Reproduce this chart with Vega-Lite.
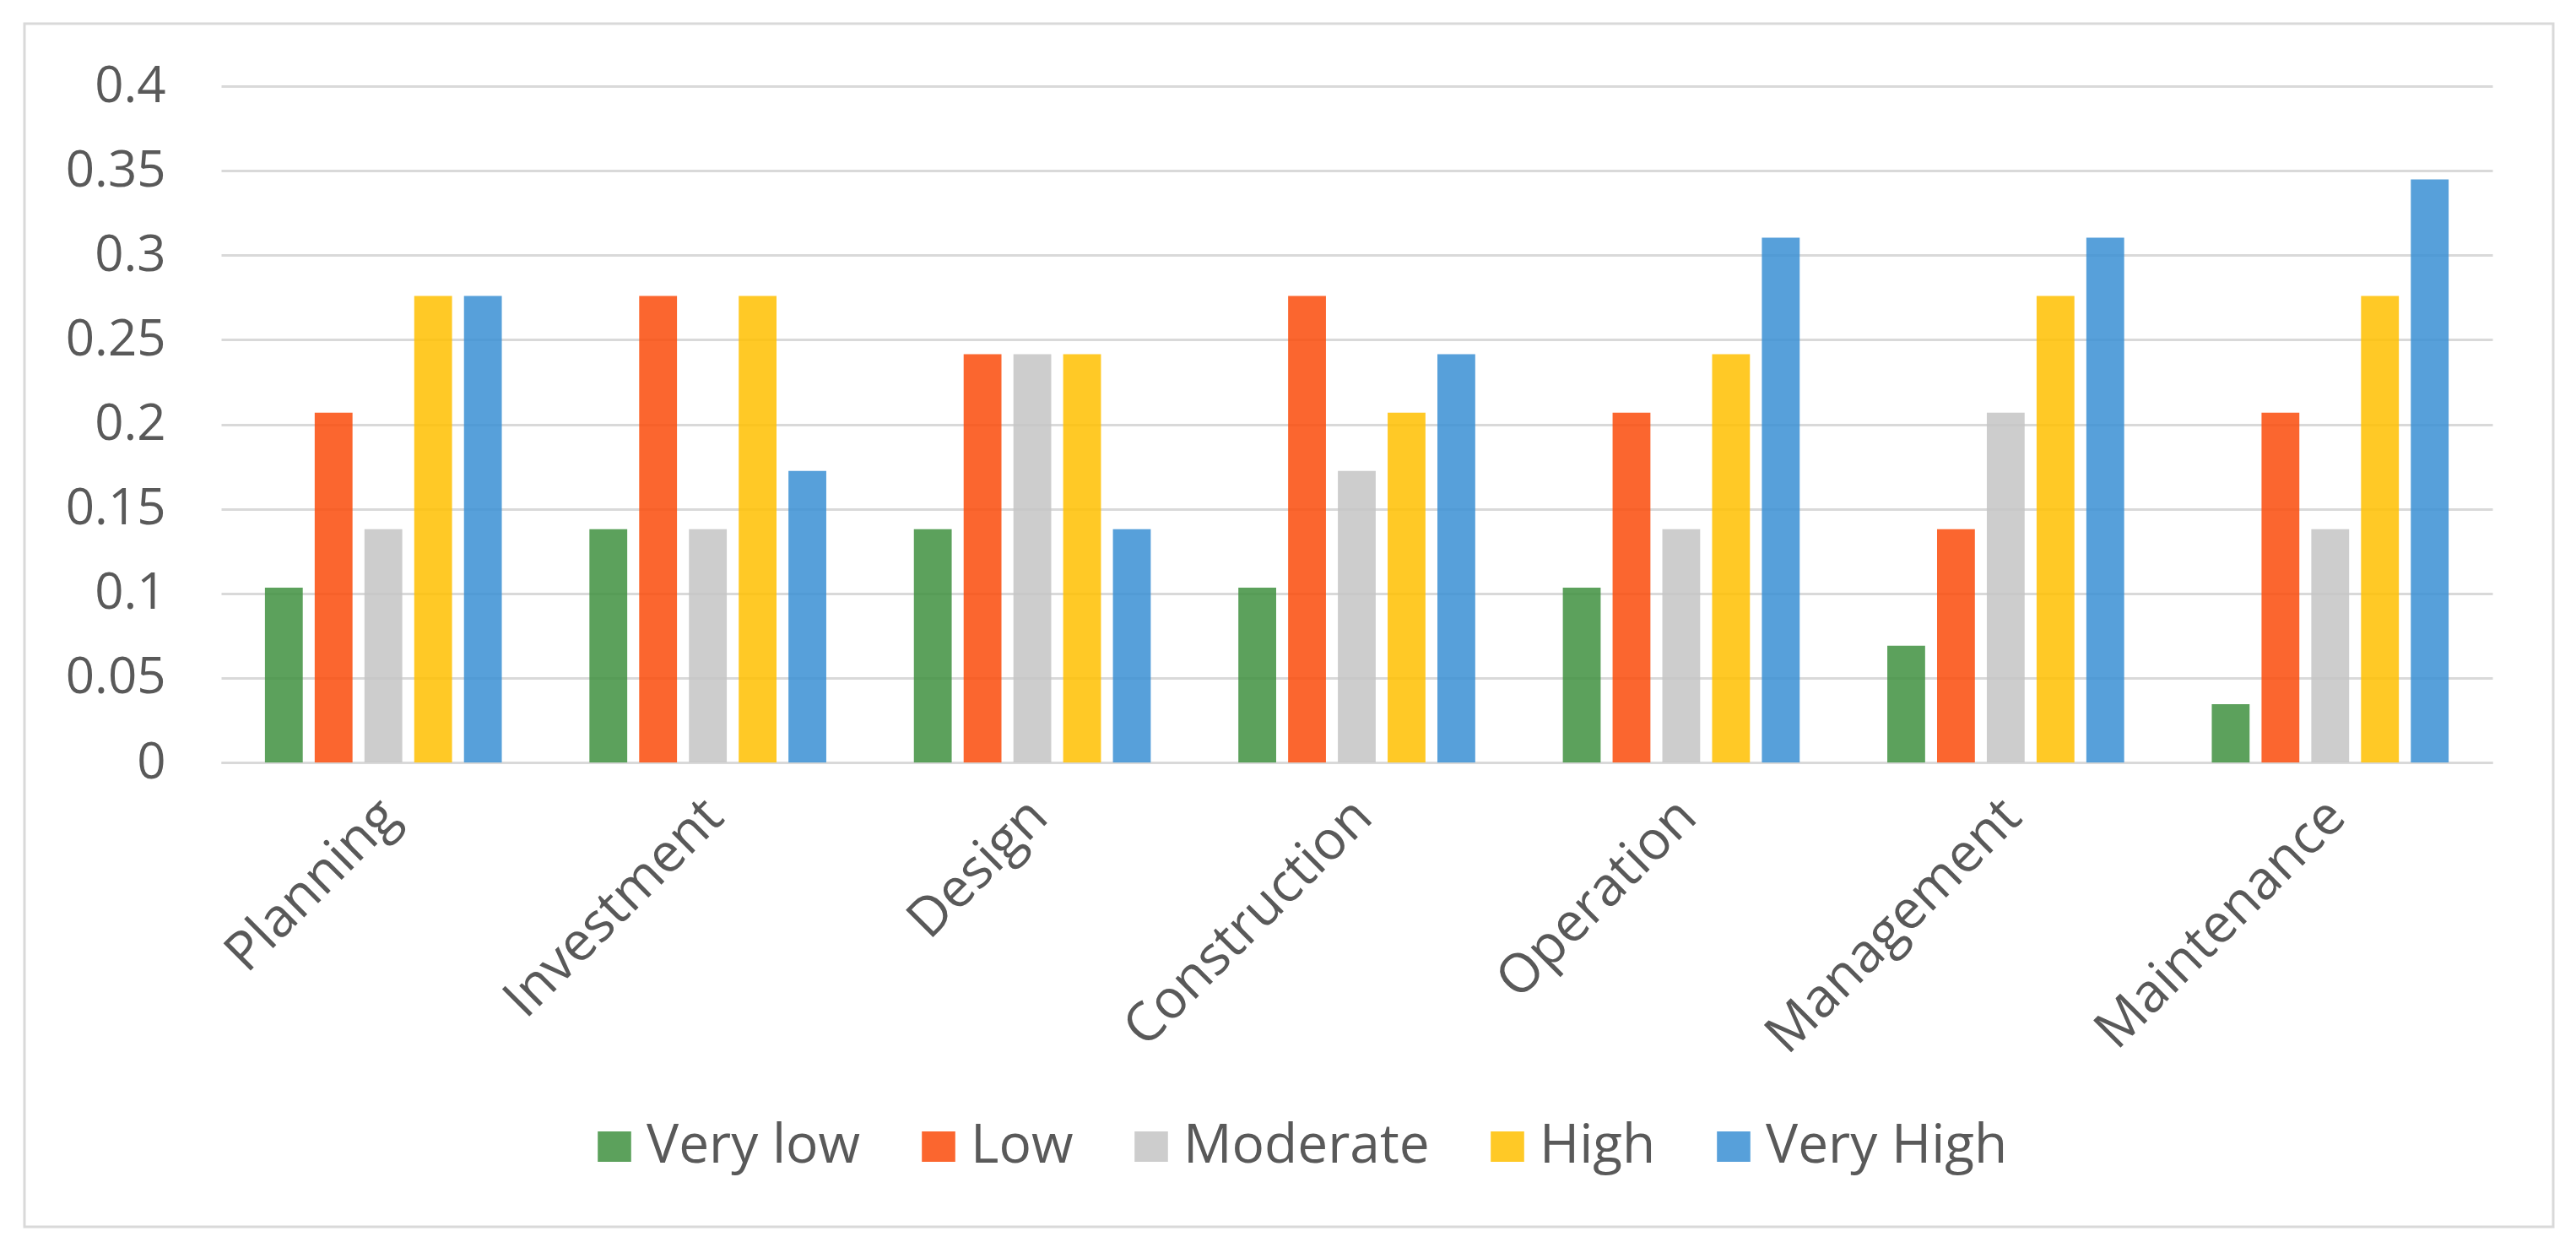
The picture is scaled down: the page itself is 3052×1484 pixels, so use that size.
{
  "$schema": "https://vega.github.io/schema/vega-lite/v6.json",
  "autosize": {"type": "none"},
  "padding": {"left": 29, "top": 28, "right": 27, "bottom": 31},
  "width": 2996,
  "height": 1425,
  "background": "white",
  "config": {
    "font": "Open Sans",
    "view": {"stroke": "#d9d9d9", "strokeWidth": 3}
  },
  "data": {
    "values": [
      {"stage": "Planning", "level": "Very low", "value": 0.1034},
      {"stage": "Planning", "level": "Low", "value": 0.2069},
      {"stage": "Planning", "level": "Moderate", "value": 0.1379},
      {"stage": "Planning", "level": "High", "value": 0.2759},
      {"stage": "Planning", "level": "Very High", "value": 0.2759},
      {"stage": "Investment", "level": "Very low", "value": 0.1379},
      {"stage": "Investment", "level": "Low", "value": 0.2759},
      {"stage": "Investment", "level": "Moderate", "value": 0.1379},
      {"stage": "Investment", "level": "High", "value": 0.2759},
      {"stage": "Investment", "level": "Very High", "value": 0.1724},
      {"stage": "Design", "level": "Very low", "value": 0.1379},
      {"stage": "Design", "level": "Low", "value": 0.2414},
      {"stage": "Design", "level": "Moderate", "value": 0.2414},
      {"stage": "Design", "level": "High", "value": 0.2414},
      {"stage": "Design", "level": "Very High", "value": 0.1379},
      {"stage": "Construction", "level": "Very low", "value": 0.1034},
      {"stage": "Construction", "level": "Low", "value": 0.2759},
      {"stage": "Construction", "level": "Moderate", "value": 0.1724},
      {"stage": "Construction", "level": "High", "value": 0.2069},
      {"stage": "Construction", "level": "Very High", "value": 0.2414},
      {"stage": "Operation", "level": "Very low", "value": 0.1034},
      {"stage": "Operation", "level": "Low", "value": 0.2069},
      {"stage": "Operation", "level": "Moderate", "value": 0.1379},
      {"stage": "Operation", "level": "High", "value": 0.2414},
      {"stage": "Operation", "level": "Very High", "value": 0.3103},
      {"stage": "Management", "level": "Very low", "value": 0.069},
      {"stage": "Management", "level": "Low", "value": 0.1379},
      {"stage": "Management", "level": "Moderate", "value": 0.2069},
      {"stage": "Management", "level": "High", "value": 0.2759},
      {"stage": "Management", "level": "Very High", "value": 0.3103},
      {"stage": "Maintenance", "level": "Very low", "value": 0.0345},
      {"stage": "Maintenance", "level": "Low", "value": 0.2069},
      {"stage": "Maintenance", "level": "Moderate", "value": 0.1379},
      {"stage": "Maintenance", "level": "High", "value": 0.2759},
      {"stage": "Maintenance", "level": "Very High", "value": 0.3448}
    ]
  },
  "mark": {"type": "bar", "fillOpacity": 0.85},
  "encoding": {
    "x": {
      "field": "stage",
      "type": "nominal",
      "sort": ["Planning", "Investment", "Design", "Construction", "Operation", "Management", "Maintenance"],
      "scale": {"range": [233, 2924], "paddingInner": 0.27, "paddingOuter": 0.135},
      "axis": {
        "title": null,
        "offset": -550,
        "domainColor": "#d9d9d9",
        "domainWidth": 3,
        "ticks": false,
        "tickSize": 0,
        "grid": false,
        "labelAngle": -45,
        "labelAlign": "right",
        "labelBaseline": "middle",
        "labelPadding": 54,
        "labelOffset": 8,
        "labelLimit": 0,
        "labelOverlap": false,
        "labelFontSize": 64,
        "labelColor": "#595959",
        "labelFont": "Open Sans"
      }
    },
    "xOffset": {
      "field": "level",
      "type": "nominal",
      "sort": ["Very low", "Low", "Moderate", "High", "Very High"],
      "scale": {"paddingInner": 0.24, "paddingOuter": 0}
    },
    "y": {
      "field": "value",
      "type": "quantitative",
      "scale": {"domain": [0, 0.4], "range": [875, 74], "nice": false, "zero": true},
      "axis": {
        "title": null,
        "offset": -233,
        "values": [0, 0.05, 0.1, 0.15, 0.2, 0.25, 0.3, 0.35, 0.4],
        "labelExpr": "format(datum.value, '~g')",
        "domain": false,
        "ticks": false,
        "tickSize": 0,
        "grid": true,
        "gridColor": "#d9d9d9",
        "gridWidth": 3,
        "labelPadding": 66,
        "labelLimit": 0,
        "labelFontSize": 60,
        "labelColor": "#595959",
        "labelFont": "Open Sans",
        "labelBaseline": "middle"
      }
    },
    "color": {
      "field": "level",
      "type": "nominal",
      "sort": ["Very low", "Low", "Moderate", "High", "Very High"],
      "scale": {
        "domain": ["Very low", "Low", "Moderate", "High", "Very High"],
        "range": ["#3f9140", "#fa4b0a", "#c4c4c4", "#ffc000", "#3a8fd3"]
      },
      "legend": {
        "title": null,
        "orient": "none",
        "direction": "horizontal",
        "legendX": 667,
        "legendY": 1298,
        "padding": 0,
        "columnPadding": 60,
        "labelOffset": 6,
        "labelLimit": 0,
        "labelFontSize": 64,
        "labelColor": "#595959",
        "labelFont": "Open Sans",
        "symbolType": "M-1.1,-1H1.1V1H-1.1Z",
        "symbolSize": 1296,
        "symbolStrokeWidth": 0,
        "symbolOpacity": 0.85
      }
    }
  }
}
